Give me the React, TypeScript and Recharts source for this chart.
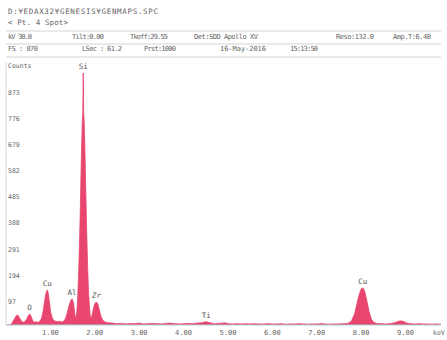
import { AreaChart, Area, XAxis, YAxis, ReferenceDot } from 'recharts';

// spectrum channels (keV) and counts
const energies = [
  0.0, 0.1, 0.14, 0.18, 0.22, 0.25, 0.27, 0.3, 0.34, 0.38, 0.42, 0.46, 0.5, 0.53, 0.56, 0.6,
  0.64, 0.68, 0.72, 0.76, 0.8, 0.84, 0.88, 0.91, 0.93, 0.95, 0.98, 1.01, 1.05, 1.1, 1.15, 1.2,
  1.25, 1.3, 1.34, 1.38, 1.42, 1.46, 1.49, 1.52, 1.55, 1.57, 1.59, 1.61, 1.63, 1.65, 1.67, 1.69,
  1.7, 1.71, 1.72, 1.73, 1.74, 1.75, 1.76, 1.77, 1.78, 1.8, 1.82, 1.84, 1.86, 1.88, 1.9, 1.92,
  1.95, 1.98, 2.01, 2.04, 2.07, 2.1, 2.14, 2.18, 2.23, 2.3, 2.4, 2.5, 2.6, 2.7, 2.8, 2.9,
  3.0, 3.1, 3.2, 3.3, 3.4, 3.5, 3.6, 3.7, 3.8, 3.9, 4.0, 4.1, 4.2, 4.3, 4.4, 4.47,
  4.51, 4.56, 4.62, 4.7, 4.8, 4.93, 5.0, 5.1, 5.2, 5.3, 5.4, 5.5, 5.6, 5.7, 5.8, 5.9,
  6.0, 6.1, 6.2, 6.3, 6.4, 6.5, 6.6, 6.7, 6.8, 6.9, 7.0, 7.1, 7.2, 7.3, 7.4, 7.5,
  7.6, 7.7, 7.78, 7.85, 7.9, 7.95, 8.0, 8.04, 8.08, 8.13, 8.18, 8.23, 8.28, 8.35, 8.45, 8.55,
  8.65, 8.75, 8.82, 8.87, 8.92, 8.97, 9.03, 9.1, 9.2, 9.3, 9.4, 9.5, 9.6, 9.7, 9.8,
];
const counts = [
  0, 1, 8, 20, 32, 37, 36, 28, 16, 10, 12, 20, 34, 41, 34, 17,
  10, 12, 9, 14, 24, 55, 100, 124, 130, 120, 82, 46, 22, 15, 12, 14,
  11, 14, 24, 45, 72, 92, 97, 84, 40, 25, 40, 80, 160, 270, 400, 560,
  640, 700, 760, 790, 937, 790, 760, 700, 640, 480, 330, 210, 120, 70, 30, 25,
  45, 70, 82, 85, 78, 58, 32, 18, 11, 8, 7, 5, 6, 4, 6, 5,
  7, 4, 5, 6, 5, 4, 6, 7, 5, 4, 5, 6, 5, 7, 8, 11,
  12, 10, 7, 5, 6, 8, 5, 4, 5, 4, 5, 4, 5, 4, 4, 5,
  4, 4, 5, 3, 4, 4, 5, 4, 3, 4, 4, 5, 4, 3, 4, 4,
  5, 6, 14, 40, 75, 110, 134, 138, 126, 90, 50, 22, 10, 6, 5, 4,
  5, 8, 13, 15, 15, 12, 7, 5, 4, 5, 4, 4, 3, 4, 3,
];

const xTicks = [1, 2, 3, 4, 5, 6, 7, 8, 9];
const yTicks = [97, 194, 291, 388, 485, 582, 679, 776, 873];

const peakNames = ['O', 'Cu', 'Al', 'Si', 'Zr', 'Ti', 'Cu'];
const peakEnergies = [0.53, 0.93, 1.49, 1.74, 2.04, 4.51, 8.04];
const peakCounts = [41, 130, 97, 937, 85, 12, 138];

const headerRows = [
  { y: 39, items: [['kV 30.0', 8, 24], ['Tilt:0.00', 72, 32], ['Tkoff:29.55', 130, 38], ['Det:SDD Apollo XV', 194, 64], ['Reso:132.0', 336, 38], ['Amp.T:6.40', 393, 38]] },
  { y: 51, items: [['FS : 870', 8, 30], ['LSec : 61.2', 82, 40], ['Prst:1000', 144, 32], ['16-May-2016', 220, 46], ['15:13:50', 290, 28]] },
];

const data = energies.map((e, i) => ({ kev: e, counts: counts[i] }));

const mono = '"DejaVu Sans Mono", monospace';
const grey = '#666';

const YTick = ({ y, payload }: any) => (
  <text x={8} y={y + 3} fontSize={6.5} fill={grey} fontFamily={mono} dominantBaseline="middle">
    {payload.value}
  </text>
);

const XTick = ({ x, payload }: any) => (
  <text x={x} y={333} fontSize={7} fill={grey} fontFamily={mono} textAnchor="middle" dominantBaseline="middle">
    {payload.value.toFixed(2)}
  </text>
);

export default function App() {
  return (
    <div style={{ position: 'absolute', left: 0, top: 0, width: 447, height: 340, background: '#fff' }}>
      <svg width={447} height={340} style={{ position: 'absolute', left: 0, top: 0 }}>
        <text x={8} y={14} fontSize={7.5} fill={grey} fontFamily={mono} textLength={150}>
          D:¥EDAX32¥GENESIS¥GENMAPS.SPC
        </text>
        <text x={8} y={25} fontSize={7.5} fill={grey} fontFamily={mono} textLength={60}>
          {'< Pt.   4 Spot>'}
        </text>
        <line x1={6} x2={441} y1={31} y2={31} stroke="#d4d4d4" strokeWidth={1} />
        <line x1={6} x2={441} y1={44} y2={44} stroke="#d4d4d4" strokeWidth={1} />
        <line x1={6} x2={441} y1={57} y2={57} stroke="#d4d4d4" strokeWidth={1} />
        {headerRows.map((row) =>
          row.items.map(([label, x, w]) => (
            <text key={label as string} x={x as number} y={row.y} fontSize={7} fill={grey} fontFamily={mono} textLength={w as number}>
              {label}
            </text>
          ))
        )}
        <text x={8} y={66} fontSize={6.5} fill={grey} fontFamily={mono} dominantBaseline="middle">Counts</text>
        <text x={433} y={333} fontSize={6.5} fill={grey} fontFamily={mono} dominantBaseline="middle">keV</text>
      </svg>
      <div style={{ position: 'absolute', left: 0, top: 0 }}>
        <AreaChart width={447} height={340} data={data} margin={{ top: 62, right: 6, left: 0, bottom: 0 }}>
          <XAxis
            dataKey="kev"
            type="number"
            domain={[0, 9.8]}
            ticks={xTicks}
            tickLine={false}
            axisLine={{ stroke: '#a9d3d3' }}
            tick={<XTick />}
            height={15}
          />
          <YAxis
            type="number"
            domain={[0, 978]}
            ticks={yTicks}
            width={6}
            tickLine={false}
            axisLine={{ stroke: '#d8d8d8' }}
            tick={<YTick />}
            allowDataOverflow
          />
          <Area
            type="linear"
            dataKey="counts"
            stroke="#e8456f"
            strokeWidth={0.8}
            fill="#e8456f"
            fillOpacity={1}
            isAnimationActive={false}
            dot={false}
            activeDot={false}
          />
          {peakNames.map((name, i) => (
            <ReferenceDot
              key={name + i}
              x={peakEnergies[i]}
              y={peakCounts[i]}
              r={0}
              fill="none"
              stroke="none"
              label={{
                value: name,
                position: 'top',
                offset: 4,
                fontSize: 7.5,
                fill: '#555',
                fontFamily: mono,
                fontStyle: name === 'Zr' ? 'italic' : 'normal',
              }}
            />
          ))}
        </AreaChart>
      </div>
    </div>
  );
}
